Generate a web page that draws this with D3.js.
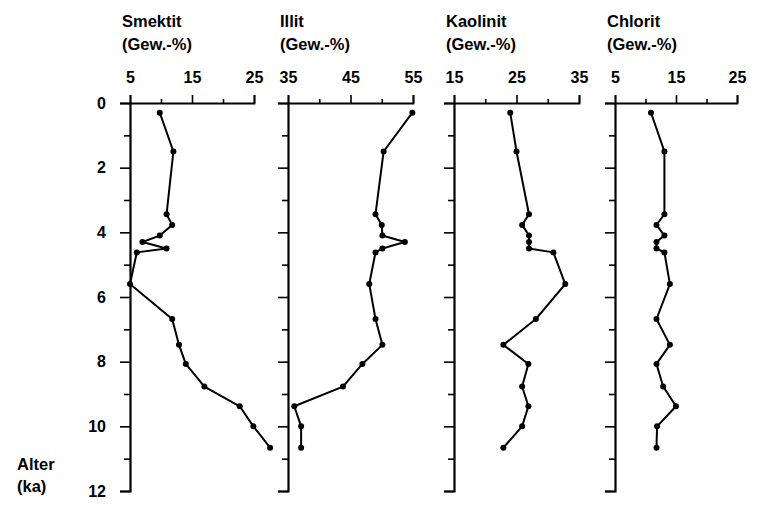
<!DOCTYPE html>
<html>
<head>
<meta charset="utf-8">
<script src="https://cdn.jsdelivr.net/npm/d3@7"></script>
<style>
  body { margin: 0; background: #fff; }
  text { font-family: "Liberation Sans", Arial, sans-serif; font-weight: bold; fill: #000; }
</style>
</head>
<body>
<div id="chart"></div>
<script>
// Alter (ka) of each sample, shared by all four panels
const alter = [0.3, 1.5, 3.44, 3.77, 4.1, 4.3, 4.5, 4.62, 5.6, 6.68, 7.48, 8.07, 8.77, 9.38, 10.0, 10.66];

// mineral contents (Gew.-%)
const smektit  = [9.8, 12.0, 10.9, 11.8, 9.8, 7.0, 10.9, 6.1, 5.0, 11.8, 12.9, 14.0, 17.0, 22.7, 24.9, 27.6];
const illit    = [54.9, 50.3, 49.0, 50.0, 50.1, 53.7, 50.1, 49.0, 48.0, 49.0, 50.1, 46.9, 43.8, 36.0, 37.1, 37.1];
const kaolinit = [24.0, 25.0, 27.0, 25.9, 27.0, 27.0, 27.0, 30.9, 32.8, 28.1, 22.9, 26.9, 25.9, 26.9, 25.9, 22.9];
const chlorit  = [10.9, 13.1, 13.1, 11.8, 13.1, 11.8, 11.8, 13.1, 14.0, 11.8, 14.0, 11.8, 12.9, 15.0, 11.9, 11.8];

const names = ["Smektit", "Illit", "Kaolinit", "Chlorit"];
const domains = [[5, 25], [35, 55], [15, 35], [5, 25]];
const yTicks = [0, 2, 4, 6, 8, 10, 12];

const series = [smektit, illit, kaolinit, chlorit];
const panelX = [[130, 254], [288, 413], [454, 579], [615, 737]];

const width = 757, height = 508;
const svg = d3.select("#chart").append("svg")
  .attr("width", width)
  .attr("height", height);

const y = d3.scaleLinear().domain([0, 12]).range([103, 491]);

series.forEach((vals, p) => {
  const x = d3.scaleLinear().domain(domains[p]).range(panelX[p]);
  const [d0, d1] = domains[p];
  const step = (d1 - d0) / 4;
  const xTickVals = d3.range(5).map(i => d0 + i * step);

  // title
  svg.append("text")
    .attr("x", panelX[p][0] - 8)
    .attr("y", 27)
    .style("font-size", "16.5px")
    .text(names[p]);
  svg.append("text")
    .attr("x", panelX[p][0] - 8)
    .attr("y", 50)
    .style("font-size", "16.5px")
    .text("(Gew.-%)");

  // vertical axis (minor ticks every 1 ka)
  const yAxis = svg.append("g")
    .attr("transform", `translate(${panelX[p][0]},0)`)
    .call(d3.axisLeft(y).tickValues(d3.range(0, 13)).tickSizeOuter(0).tickSize(10).tickPadding(14)
      .tickFormat(d => (p === 0 && yTicks.includes(d)) ? d : ""));
  yAxis.select(".domain").attr("stroke-width", 2.2);
  yAxis.selectAll(".tick line")
    .attr("stroke-width", 1.6)
    .attr("x2", d => d % 2 === 0 ? -10 : -6);
  yAxis.selectAll(".tick text").style("font-size", "16px");

  // top axis
  const xAxis = svg.append("g")
    .attr("transform", `translate(0,${y(0)})`)
    .call(d3.axisTop(x).tickValues(xTickVals).tickSizeOuter(0).tickSize(8).tickPadding(12)
      .tickFormat((d, i) => i % 2 === 0 ? d : ""));
  xAxis.select(".domain").attr("stroke-width", 1.8);
  xAxis.selectAll(".tick line")
    .attr("stroke-width", 1.6)
    .attr("y2", (d, i) => i % 2 === 0 ? -8 : -4);
  xAxis.selectAll(".tick text").style("font-size", "16px");

  // profile line
  const line = d3.line()
    .x(d => x(d[1]))
    .y(d => y(d[0]));
  const pts = alter.map((a, i) => [a, vals[i]]);
  svg.append("path")
    .datum(pts)
    .attr("fill", "none")
    .attr("stroke", "#000")
    .attr("stroke-width", 2)
    .attr("stroke-linejoin", "round")
    .attr("d", line);

  svg.append("g").selectAll("circle")
    .data(pts)
    .enter()
    .append("circle")
    .attr("cx", d => x(d[1]))
    .attr("cy", d => y(d[0]))
    .attr("r", 3)
    .attr("fill", "#000");
});

// y axis title
svg.append("text")
  .attr("x", 17)
  .attr("y", 470)
  .style("font-size", "16.5px")
  .text("Alter");
svg.append("text")
  .attr("x", 17)
  .attr("y", 492)
  .style("font-size", "16.5px")
  .text("(ka)");
</script>
</body>
</html>
